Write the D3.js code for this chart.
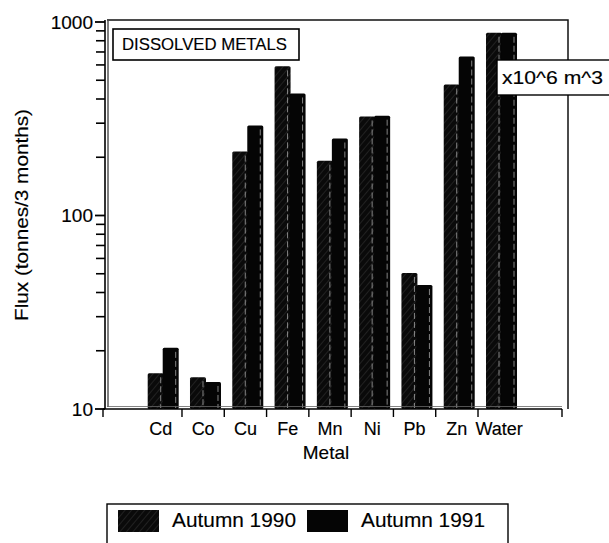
<!DOCTYPE html>
<html>
<head>
<meta charset="utf-8">
<script src="https://cdn.jsdelivr.net/npm/d3@7"></script>
<style>
  body { margin: 0; background: #fff; }
  svg { display: block; font-family: "Liberation Sans", Arial, sans-serif; }
  svg text { fill: #000; stroke: #000; stroke-width: 0.15px; }
</style>
</head>
<body>
<svg id="chart" width="609" height="543"></svg>
<script>
// Dissolved metal fluxes, log scale bar chart

const metals = ['Cd', 'Co', 'Cu', 'Fe', 'Mn', 'Ni', 'Pb', 'Zn', 'Water'];
const seasons = ['Autumn 1990', 'Autumn 1991'];
const autumn1990 = [15.3, 14.6, 214, 590, 192, 325, 50.5, 475, 880];
const autumn1991 = [20.7, 13.8, 292, 427, 250, 328, 43.7, 663, 880];
const yTicks = [10, 100, 1000];

const svg = d3.select('#chart');

const xScale = d3.scaleBand()
  .domain(metals)
  .range([139.7, 520.3]);

const xInner = d3.scaleBand()
  .domain(seasons)
  .range([8, 38]);

const yScale = d3.scaleLog()
  .domain([10, 1000])
  .range([409, 22]);

// Pattern for the 1990 bars (near black with sparse hatching)
const defs = svg.append('defs');
const pat = defs.append('pattern')
  .attr('id', 'hatch')
  .attr('patternUnits', 'userSpaceOnUse')
  .attr('width', 5)
  .attr('height', 5)
  .attr('patternTransform', 'rotate(40)');
pat.append('rect').attr('width', 5).attr('height', 5).attr('fill', '#0a0a0a');
pat.append('line')
  .attr('x1', 0).attr('y1', 0).attr('x2', 0).attr('y2', 5)
  .attr('stroke', '#4a4a4a').attr('stroke-width', 0.7);

// Frame (top and right edges)
svg.append('path')
  .attr('d', `M107,20H568V${yScale(10)}`)
  .style('fill', 'none')
  .style('stroke', '#111')
  .style('stroke-width', 1.5);

// Bars
const data = metals.map((m, i) => ({
  metal: m,
  values: [
    { season: seasons[0], value: autumn1990[i] },
    { season: seasons[1], value: autumn1991[i] }
  ]
}));

const groups = svg.append('g').selectAll('g')
  .data(data)
  .enter()
  .append('g')
  .attr('transform', d => `translate(${xScale(d.metal)},0)`);

groups.selectAll('rect.bar')
  .data(d => d.values)
  .enter()
  .append('rect')
  .attr('class', 'bar')
  .attr('x', d => xInner(d.season))
  .attr('y', d => yScale(d.value))
  .attr('width', xInner.bandwidth() + 1)
  .attr('height', d => yScale(10) - yScale(d.value))
  .attr('rx', 1.5)
  .style('fill', d => d.season === seasons[0] ? 'url(#hatch)' : '#050505');

// thin highlight near the right side of each bar (pseudo 3D)
groups.selectAll('line.shine')
  .data(d => d.values)
  .enter()
  .append('line')
  .attr('class', 'shine')
  .attr('x1', d => xInner(d.season) + xInner.bandwidth() - 2)
  .attr('x2', d => xInner(d.season) + xInner.bandwidth() - 2)
  .attr('y1', d => yScale(d.value) + 4)
  .attr('y2', yScale(10) - 1)
  .style('stroke', '#bbb')
  .style('stroke-width', 0.7)
  .style('stroke-dasharray', '6,3');

// Y axis
const yg = svg.append('g').attr('transform', 'translate(105,0)');
yg.append('line')
  .attr('x1', 0).attr('x2', 0)
  .attr('y1', 20).attr('y2', yScale(10))
  .style('stroke', '#000').style('stroke-width', 1.6);
yg.append('line')
  .attr('x1', 3).attr('x2', 3)
  .attr('y1', 21).attr('y2', yScale(10) - 2)
  .style('stroke', '#000').style('stroke-width', 1);

const minor = [];
[10, 100].forEach(base => {
  for (let k = 2; k <= 9; k++) minor.push(base * k);
});
yg.selectAll('line.minor')
  .data(minor)
  .enter()
  .append('line')
  .attr('class', 'minor')
  .attr('x1', -9).attr('x2', 0)
  .attr('y1', d => yScale(d)).attr('y2', d => yScale(d))
  .style('stroke', '#000').style('stroke-width', 1.6);
yg.selectAll('line.major')
  .data(yTicks)
  .enter()
  .append('line')
  .attr('class', 'major')
  .attr('x1', -10).attr('x2', 0)
  .attr('y1', d => yScale(d)).attr('y2', d => yScale(d))
  .style('stroke', '#000').style('stroke-width', 1.8);
yg.selectAll('text.tick')
  .data(yTicks)
  .enter()
  .append('text')
  .attr('class', 'tick')
  .attr('x', -12)
  .attr('y', d => yScale(d))
  .attr('dy', '0.36em')
  .attr('text-anchor', 'end')
  .style('font-size', '19px')
  .text(d => d);

// X axis
const xg = svg.append('g').attr('transform', `translate(0,${yScale(10)})`);
xg.append('line')
  .attr('x1', 103).attr('x2', 562)
  .attr('y1', 0).attr('y2', 0)
  .style('stroke', '#000').style('stroke-width', 1.6);
xg.append('line')
  .attr('x1', 107).attr('x2', 562)
  .attr('y1', -2.5).attr('y2', -2.5)
  .style('stroke', '#666').style('stroke-width', 0.8);

const xTickPos = [103].concat(metals.slice(0, -1).map(m => xScale(m) + xScale.bandwidth()), [562]);
xg.selectAll('line.xt')
  .data(xTickPos)
  .enter()
  .append('line')
  .attr('class', 'xt')
  .attr('x1', d => d).attr('x2', d => d)
  .attr('y1', 0).attr('y2', 8)
  .style('stroke', '#000').style('stroke-width', 1.4);

xg.selectAll('text.xl')
  .data(metals)
  .enter()
  .append('text')
  .attr('class', 'xl')
  .attr('x', d => xScale(d) + xScale.bandwidth() / 2)
  .attr('y', 26)
  .attr('text-anchor', 'middle')
  .style('font-size', '18px')
  .text(d => d);

// Axis titles
svg.append('text')
  .attr('x', 326)
  .attr('y', 459)
  .attr('text-anchor', 'middle')
  .style('font-size', '19px')
  .text('Metal');

svg.append('text')
  .attr('transform', 'rotate(-90)')
  .attr('x', -215)
  .attr('y', 28)
  .attr('text-anchor', 'middle')
  .attr('textLength', 212)
  .attr('lengthAdjust', 'spacingAndGlyphs')
  .style('font-size', '19px')
  .text('Flux (tonnes/3 months)');

// Title box
svg.append('rect')
  .attr('x', 113).attr('y', 29)
  .attr('width', 186).attr('height', 31)
  .style('fill', '#fff').style('stroke', '#000').style('stroke-width', 1.6);
svg.append('text')
  .attr('x', 122).attr('y', 50)
  .attr('textLength', 165)
  .attr('lengthAdjust', 'spacingAndGlyphs')
  .style('font-size', '17px')
  .text('DISSOLVED METALS');

// Unit box for water
svg.append('rect')
  .attr('x', 497).attr('y', 60)
  .attr('width', 115).attr('height', 35)
  .style('fill', '#fff').style('stroke', '#000').style('stroke-width', 1.4);
svg.append('text')
  .attr('x', 502).attr('y', 84)
  .attr('textLength', 101)
  .attr('lengthAdjust', 'spacingAndGlyphs')
  .style('font-size', '18px')
  .text('x10^6 m^3');

// Legend
const legend = svg.append('g');
legend.append('rect')
  .attr('x', 107).attr('y', 504)
  .attr('width', 401).attr('height', 60)
  .style('fill', '#fff').style('stroke', '#000').style('stroke-width', 1.4);

const legendItems = legend.selectAll('g.item')
  .data(seasons)
  .enter()
  .append('g')
  .attr('class', 'item')
  .attr('transform', (d, i) => `translate(${i === 0 ? 118 : 307},510)`);

legendItems.append('rect')
  .attr('width', 41).attr('height', 22)
  .style('fill', (d, i) => i === 0 ? 'url(#hatch)' : '#050505');

legendItems.append('text')
  .attr('x', 54).attr('y', 17)
  .attr('textLength', 124)
  .attr('lengthAdjust', 'spacingAndGlyphs')
  .style('font-size', '21px')
  .text(d => d);
</script>
</body>
</html>
